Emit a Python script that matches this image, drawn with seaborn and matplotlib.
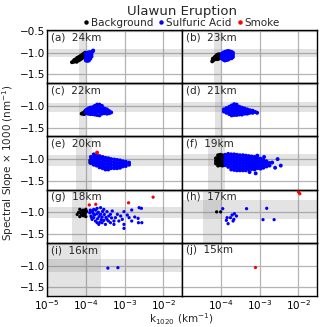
import matplotlib
matplotlib.use("Agg")
import matplotlib.pyplot as plt
import numpy as np
import pandas as pd
import seaborn as sns
from matplotlib.ticker import MultipleLocator, NullLocator, FixedLocator
from matplotlib.lines import Line2D

# ---------------- data ----------------
panel_labels = ['(a)  24km', '(b)  23km', '(c)  22km', '(d)  21km', '(e)  20km',
                '(f)  19km', '(g)  18km', '(h)  17km', '(i)  16km', '(j)  15km']
class_names = ['Background', 'Sulfuric Acid', 'Smoke']
class_colors = ['black', 'blue', 'red']

# background mean +- spread bands per panel (None = no band)
band_k_lo = [6.8e-5, 6.5e-5, 6.8e-5, 7.2e-5, 5.6e-5, 4.8e-5, 4.5e-5, 3.4e-5, 1.0e-5, None]
band_k_hi = [1.0e-4, 1.0e-4, 1.0e-4, 1.17e-4, 1.45e-4, 1.26e-4, 1.03e-4, 1.07e-4, 2.5e-4, None]
band_s_lo = [-1.09, -1.10, -1.13, -1.13, -1.16, -1.16, -1.125, -1.16, -1.16, None]
band_s_hi = [-0.92, -0.91, -0.93, -0.92, -0.90, -0.88, -0.87, -0.72, -0.84, None]

# (a) 24 km
a_bg_x = [4.4e-5, 4.8e-5, 5.2e-5, 5.6e-5, 6.0e-5, 6.5e-5, 7.0e-5, 7.5e-5, 8.0e-5, 8.6e-5, 9.2e-5, 9.8e-5, 1.04e-4,
          5.0e-5, 5.5e-5, 6.0e-5, 6.6e-5, 7.2e-5, 7.8e-5, 8.4e-5, 9.0e-5, 9.6e-5,
          5.8e-5, 6.4e-5, 7.0e-5, 7.6e-5, 8.2e-5, 8.8e-5, 9.4e-5, 1.0e-4]
a_bg_y = [-1.22, -1.21, -1.20, -1.18, -1.16, -1.14, -1.12, -1.10, -1.09, -1.07, -1.05, -1.03, -1.01,
          -1.17, -1.15, -1.12, -1.10, -1.08, -1.06, -1.04, -1.02, -1.00,
          -1.21, -1.18, -1.16, -1.14, -1.12, -1.10, -1.08, -1.06]
a_sa_x = [1.0e-4, 1.0e-4, 1.0e-4, 1.0e-4, 1.1e-4, 1.1e-4, 1.1e-4, 1.1e-4, 1.1e-4,
          1.2e-4, 1.2e-4, 1.2e-4, 1.2e-4, 1.2e-4, 1.3e-4, 1.3e-4, 1.3e-4, 1.3e-4,
          1.4e-4, 1.4e-4, 1.4e-4, 1.55e-4, 1.5e-4]
a_sa_y = [-1.02, -1.08, -1.13, -1.18, -1.00, -1.05, -1.10, -1.15, -1.19,
          -0.99, -1.04, -1.09, -1.14, -1.18, -0.99, -1.04, -1.09, -1.14,
          -0.99, -1.04, -1.09, -0.95, -0.97]

# (b) 23 km
b_bg_x = [6.0e-5, 6.5e-5, 7.0e-5, 7.0e-5, 7.5e-5, 7.5e-5, 8.0e-5, 8.0e-5, 8.0e-5, 8.6e-5, 8.6e-5,
          8.6e-5, 9.2e-5, 9.2e-5, 9.2e-5, 9.8e-5, 9.8e-5, 9.8e-5, 1.04e-4, 1.04e-4, 6.2e-5, 6.8e-5]
b_bg_y = [-1.20, -1.17, -1.10, -1.15, -1.08, -1.13, -1.05, -1.10, -1.15, -1.04, -1.09,
          -1.14, -1.04, -1.09, -1.13, -1.04, -1.08, -1.12, -1.06, -1.10, -1.14, -1.12]
b_sa_cols = [(1.05e-4, [-1.03, -1.08, -1.13]),
             (1.15e-4, [-1.00, -1.05, -1.10, -1.16]),
             (1.27e-4, [-0.98, -1.03, -1.08, -1.13, -1.18]),
             (1.40e-4, [-0.97, -1.02, -1.07, -1.12, -1.17]),
             (1.55e-4, [-0.96, -1.01, -1.06, -1.11, -1.16]),
             (1.70e-4, [-0.97, -1.02, -1.07, -1.13]),
             (1.88e-4, [-0.98, -1.03, -1.08, -1.13]),
             (2.05e-4, [-1.00, -1.05, -1.10])]

# (c) 22 km
c_bg_x = [7.8e-5, 8.4e-5, 9.0e-5, 9.0e-5, 9.7e-5, 9.7e-5, 1.04e-4, 1.04e-4, 1.1e-4]
c_bg_y = [-1.18, -1.17, -1.15, -1.19, -1.12, -1.17, -1.10, -1.15, -1.12]
c_sa_cols = [(1.00e-4, [-1.10, -1.16]),
             (1.15e-4, [-1.06, -1.12, -1.18]),
             (1.30e-4, [-1.04, -1.09, -1.14, -1.19]),
             (1.50e-4, [-1.03, -1.08, -1.13, -1.19]),
             (1.70e-4, [-1.00, -1.05, -1.10, -1.15, -1.20]),
             (1.95e-4, [-0.97, -1.02, -1.08, -1.14, -1.21]),
             (2.25e-4, [-0.97, -1.02, -1.08, -1.14, -1.22]),
             (2.60e-4, [-1.00, -1.05, -1.11, -1.18]),
             (3.00e-4, [-1.06, -1.11, -1.17]),
             (3.50e-4, [-1.08, -1.13, -1.18]),
             (4.00e-4, [-1.12, -1.17]),
             (4.50e-4, [-1.15])]

# (d) 21 km
d_sa_cols = [(1.20e-4, [-1.08, -1.13]),
             (1.40e-4, [-1.05, -1.10, -1.16]),
             (1.65e-4, [-1.02, -1.07, -1.13, -1.19]),
             (1.90e-4, [-0.99, -1.04, -1.10, -1.16, -1.22]),
             (2.20e-4, [-0.96, -1.02, -1.08, -1.14, -1.21]),
             (2.55e-4, [-0.97, -1.03, -1.09, -1.15, -1.21]),
             (3.00e-4, [-1.02, -1.08, -1.14, -1.20]),
             (3.50e-4, [-1.04, -1.09, -1.15, -1.20]),
             (4.10e-4, [-1.06, -1.12, -1.18]),
             (4.80e-4, [-1.08, -1.13, -1.18]),
             (5.60e-4, [-1.10, -1.16]),
             (6.60e-4, [-1.11, -1.16]),
             (7.70e-4, [-1.14]),
             (8.60e-4, [-1.16])]

# (e) 20 km
e_bg_x = [1.3e-4, 1.3e-4]
e_bg_y = [-1.03, -1.08]
e_sa_cols = [(1.35e-4, [-0.95, -1.02, -1.09]),
             (1.60e-4, [-0.89, -0.95, -1.01, -1.07, -1.13]),
             (1.90e-4, [-0.91, -0.97, -1.03, -1.09, -1.15]),
             (2.25e-4, [-0.93, -0.99, -1.06, -1.13, -1.19]),
             (2.70e-4, [-0.95, -1.01, -1.08, -1.15, -1.21]),
             (3.20e-4, [-0.97, -1.04, -1.11, -1.18, -1.24]),
             (3.80e-4, [-0.98, -1.05, -1.12, -1.18, -1.24]),
             (4.50e-4, [-1.00, -1.07, -1.14, -1.21]),
             (5.40e-4, [-1.01, -1.08, -1.15, -1.21]),
             (6.40e-4, [-1.02, -1.09, -1.15, -1.21]),
             (7.60e-4, [-1.03, -1.09, -1.15, -1.20]),
             (9.00e-4, [-1.05, -1.11, -1.17]),
             (1.07e-3, [-1.06, -1.11, -1.16]),
             (1.30e-3, [-1.08, -1.13])]
e_sm_x = [1.95e-4]
e_sm_y = [-0.85]

# (f) 19 km
f_bg_cols = [(7.5e-5, [-0.98, -1.04, -1.10]),
             (8.5e-5, [-0.91, -0.97, -1.03, -1.09, -1.15]),
             (9.7e-5, [-0.90, -0.96, -1.02, -1.08, -1.14]),
             (1.10e-4, [-0.91, -0.97, -1.03, -1.09, -1.15]),
             (1.22e-4, [-0.96, -1.03, -1.10])]
f_sa_cols = [(1.30e-4, [-0.90, -0.96, -1.02, -1.08, -1.14]),
             (1.55e-4, [-0.88, -0.94, -1.00, -1.06, -1.12, -1.18]),
             (1.85e-4, [-0.89, -0.95, -1.01, -1.07, -1.13, -1.19, -1.24]),
             (2.20e-4, [-0.89, -0.95, -1.01, -1.07, -1.13, -1.19, -1.25]),
             (2.60e-4, [-0.90, -0.96, -1.02, -1.08, -1.14, -1.20, -1.26]),
             (3.10e-4, [-0.91, -0.97, -1.03, -1.09, -1.15, -1.21, -1.26]),
             (3.70e-4, [-0.91, -0.97, -1.03, -1.09, -1.15, -1.21, -1.26]),
             (4.40e-4, [-0.92, -0.98, -1.04, -1.10, -1.16, -1.22, -1.26]),
             (5.20e-4, [-0.93, -0.99, -1.05, -1.11, -1.17, -1.23]),
             (6.20e-4, [-0.94, -1.00, -1.06, -1.12, -1.18, -1.23]),
             (7.40e-4, [-0.95, -1.01, -1.07, -1.13, -1.19, -1.24]),
             (8.80e-4, [-0.97, -1.03, -1.09, -1.15, -1.21]),
             (1.05e-3, [-0.99, -1.05, -1.11, -1.17, -1.22]),
             (1.25e-3, [-1.02, -1.08, -1.14, -1.20]),
             (1.50e-3, [-1.05, -1.11, -1.17]),
             (1.80e-3, [-1.09, -1.15])]
f_sa_extra_x = [3.5e-3, 2.9e-3, 2.1e-3, 8.7e-4, 7.9e-4, 2.5e-3, 1.3e-3, 5.5e-4]
f_sa_extra_y = [-1.15, -1.00, -1.08, -0.92, -1.33, -1.20, -0.95, -1.30]

# (g) 18 km
g_bg_x = [7.0e-5, 7.8e-5, 8.5e-5, 9.3e-5, 1.0e-4, 1.0e-4, 9.3e-5, 7.8e-5, 7.0e-5, 6.5e-5,
          7.3e-5, 9.8e-5, 8.5e-5, 8.5e-5, 6.0e-5, 1.05e-4]
g_bg_y = [-0.93, -0.97, -1.01, -1.06, -1.10, -0.93, -0.97, -1.06, -1.10, -1.00,
          -1.02, -1.02, -0.95, -1.08, -1.05, -0.98]
g_sa_x = [2.36e-3, 2.7e-3, 1.52e-3, 9.6e-4, 1.82e-3, 2.22e-3, 1.52e-3, 2.27e-3, 2.77e-3, 9.6e-4,
          9.6e-4, 7.1e-4, 5.8e-4, 4.3e-4, 3.5e-4, 2.9e-4, 2.4e-4, 1.95e-4, 1.6e-4, 1.45e-4,
          1.26e-4, 1.36e-4, 1.6e-4, 1.77e-4, 1.95e-4, 2.16e-4, 2.63e-4, 2.9e-4, 3.5e-4, 4.3e-4,
          5.3e-4, 6.5e-4, 7.9e-4, 3.9e-4, 2.4e-4, 1.95e-4, 2.63e-4, 3.2e-4, 1.6e-4, 1.45e-4,
          4.8e-4, 5.3e-4, 1.17e-3, 1.3e-3, 8.7e-4,
          1.3e-4, 1.5e-4, 1.8e-4, 2.1e-4, 2.2e-4, 2.5e-4, 2.0e-4, 3.0e-4, 3.3e-4, 2.7e-4,
          1.7e-4, 3.8e-4, 4.6e-4, 2.3e-4, 1.4e-4]
g_sa_y = [-0.893, -0.908, -0.947, -0.985, -1.109, -1.14, -1.201, -1.24, -1.24, -1.279,
          -1.371, -1.201, -1.124, -1.047, -0.985, -0.931, -0.893, -0.908, -0.931, -0.97,
          -1.009, -1.086, -1.124, -1.201, -1.24, -1.279, -1.24, -1.186, -1.163, -1.24,
          -1.201, -1.047, -1.086, -1.086, -1.047, -1.032, -1.109, -1.279, -1.047, -1.163,
          -0.97, -1.279, -1.063, -1.124, -1.163,
          -0.95, -1.00, -0.95, -1.00, -1.10, -1.17, -1.15, -1.05, -1.12, -0.98,
          -1.06, -1.20, -1.13, -1.23, -1.12]
g_sm_x = [1.23e-4, 1.8e-4, 1.26e-3, 5.4e-3]
g_sm_y = [-0.83, -0.815, -0.78, -0.65]

# (h) 17 km
h_bg_x = [7.8e-5, 9.9e-5]
h_bg_y = [-0.99, -0.99]
h_sa_x = [1.12e-4, 4.6e-4, 1.52e-3, 2.24e-4, 1.95e-4, 1.45e-4, 1.39e-4, 1.54e-4, 1.77e-4, 2.07e-4,
          2.53e-4, 2.16e-4, 1.22e-3, 2.36e-3]
h_sa_y = [-0.916, -0.916, -0.908, -1.032, -1.063, -1.124, -1.186, -1.263, -1.124, -1.201,
          -1.086, -1.163, -1.17, -1.17]
h_sm_x = [1.0e-2, 1.08e-2]
h_sm_y = [-0.53, -0.57]

# (i) 16 km
i_sa_x = [3.7e-4, 6.7e-4]
i_sa_y = [-1.06, -1.05]

# (j) 15 km
j_sm_x = [7.7e-4]
j_sm_y = [-1.04]


def expand(cols):
    xs, ys = [], []
    for xv, yl in cols:
        xs += [xv] * len(yl)
        ys += list(yl)
    return xs, ys


f_sa_x, f_sa_y = expand(f_sa_cols)
panel_data = {
    0: [(a_bg_x, a_bg_y), (a_sa_x, a_sa_y), ([], [])],
    1: [(b_bg_x, b_bg_y), expand(b_sa_cols), ([], [])],
    2: [(c_bg_x, c_bg_y), expand(c_sa_cols), ([], [])],
    3: [([], []), expand(d_sa_cols), ([], [])],
    4: [(e_bg_x, e_bg_y), expand(e_sa_cols), (e_sm_x, e_sm_y)],
    5: [expand(f_bg_cols), (f_sa_x + f_sa_extra_x, f_sa_y + f_sa_extra_y), ([], [])],
    6: [(g_bg_x, g_bg_y), (g_sa_x, g_sa_y), (g_sm_x, g_sm_y)],
    7: [(h_bg_x, h_bg_y), (h_sa_x, h_sa_y), (h_sm_x, h_sm_y)],
    8: [([], []), (i_sa_x, i_sa_y), ([], [])],
    9: [([], []), ([], []), (j_sm_x, j_sm_y)],
}
marker_sizes = [8, 8, 8, 8, 8, 8, 5.5, 5.5, 5.5, 5.5]

rows = []
for p, groups in panel_data.items():
    for ci, (xs, ys) in enumerate(groups):
        for xv, yv in zip(xs, ys):
            rows.append((p, class_names[ci], xv, yv))
df = pd.DataFrame(rows, columns=['panel', 'cls', 'k1020', 'slope'])

# ---------------- figure ----------------
sns.set_style("white")
plt.rcParams['font.family'] = ['DejaVu Sans']

fig, axes = plt.subplots(5, 2, figsize=(3.2, 3.27), dpi=100)
fig.subplots_adjust(left=47/320, right=317/320, top=1-30/327, bottom=1-296/327,
                    hspace=0, wspace=0)

palette = dict(zip(class_names, class_colors))
for idx, ax in enumerate(axes.flat):
    r, c = divmod(idx, 2)
    ax.set_xscale('log')
    ax.set_xlim(1e-5, 3e-2)
    ax.set_ylim(-1.705, -0.475)
    if band_k_lo[idx] is not None:
        ax.axvspan(band_k_lo[idx], band_k_hi[idx], color='gray', alpha=0.22, lw=0, zorder=1)
        ax.axhspan(band_s_lo[idx], band_s_hi[idx], color='gray', alpha=0.22, lw=0, zorder=1)
    sub = df[df.panel == idx]
    if len(sub):
        sns.scatterplot(data=sub, x='k1020', y='slope', hue='cls', palette=palette,
                        hue_order=class_names, s=marker_sizes[idx], linewidth=0,
                        legend=False, ax=ax, zorder=3)
    ax.set_xlabel('')
    ax.set_ylabel('')
    # ticks
    if c == 0:
        ax.xaxis.set_major_locator(FixedLocator([1e-5, 1e-4, 1e-3, 1e-2]))
    else:
        ax.xaxis.set_major_locator(FixedLocator([1e-4, 1e-3, 1e-2]))
    ax.xaxis.set_minor_locator(NullLocator())
    ax.yaxis.set_major_locator(FixedLocator([-1.5, -1.0, -0.5]))
    ax.yaxis.set_minor_locator(MultipleLocator(0.1))
    ax.grid(True, which='major', color='#b4b4b4', lw=0.9, zorder=0.5)
    ax.set_axisbelow(True)
    ax.tick_params(axis='both', which='both', direction='in', labelsize=7.5, pad=1.5,
                   colors='black')
    ax.tick_params(which='major', length=4, width=0.8)
    ax.tick_params(which='minor', length=2, width=0.6)
    if c == 0:
        if r == 0:
            ax.set_yticklabels(['\u22121.5', '\u22121.0', '\u22120.5'])
        else:
            ax.set_yticklabels(['\u22121.5', '\u22121.0', ''])
    else:
        ax.tick_params(axis='y', labelleft=False)
    if r < 4:
        ax.tick_params(axis='x', labelbottom=False)
    for s in ax.spines.values():
        s.set_color('black')
        s.set_linewidth(1.0)
    ax.text(0.03, 0.955, panel_labels[idx], transform=ax.transAxes, ha='left', va='top',
            fontsize=7.5, zorder=5)

fig.text(0.568, 1 - 12/327, 'Ulawun Eruption', ha='center', va='center', fontsize=9.5)
handles = [Line2D([], [], marker='o', ls='', color=col, markersize=2.2) for col in class_colors]
fig.legend(handles, class_names, loc='center', bbox_to_anchor=(0.568, 1 - 23/327), ncol=3,
           frameon=False, fontsize=7.5, handlelength=0.4, handletextpad=0.25,
           columnspacing=0.6, borderpad=0, borderaxespad=0)
fig.text(0.025, 1 - 163/327, 'Spectral Slope \u00d7 1000 (nm$^{-1}$)', rotation=90,
         ha='center', va='center', fontsize=7.5)
fig.text(0.568, 1 - 319.5/327, 'k$_{1020}$ (km$^{-1}$)', ha='center', va='center', fontsize=7.5)

fig.savefig('out.png', dpi=100)
